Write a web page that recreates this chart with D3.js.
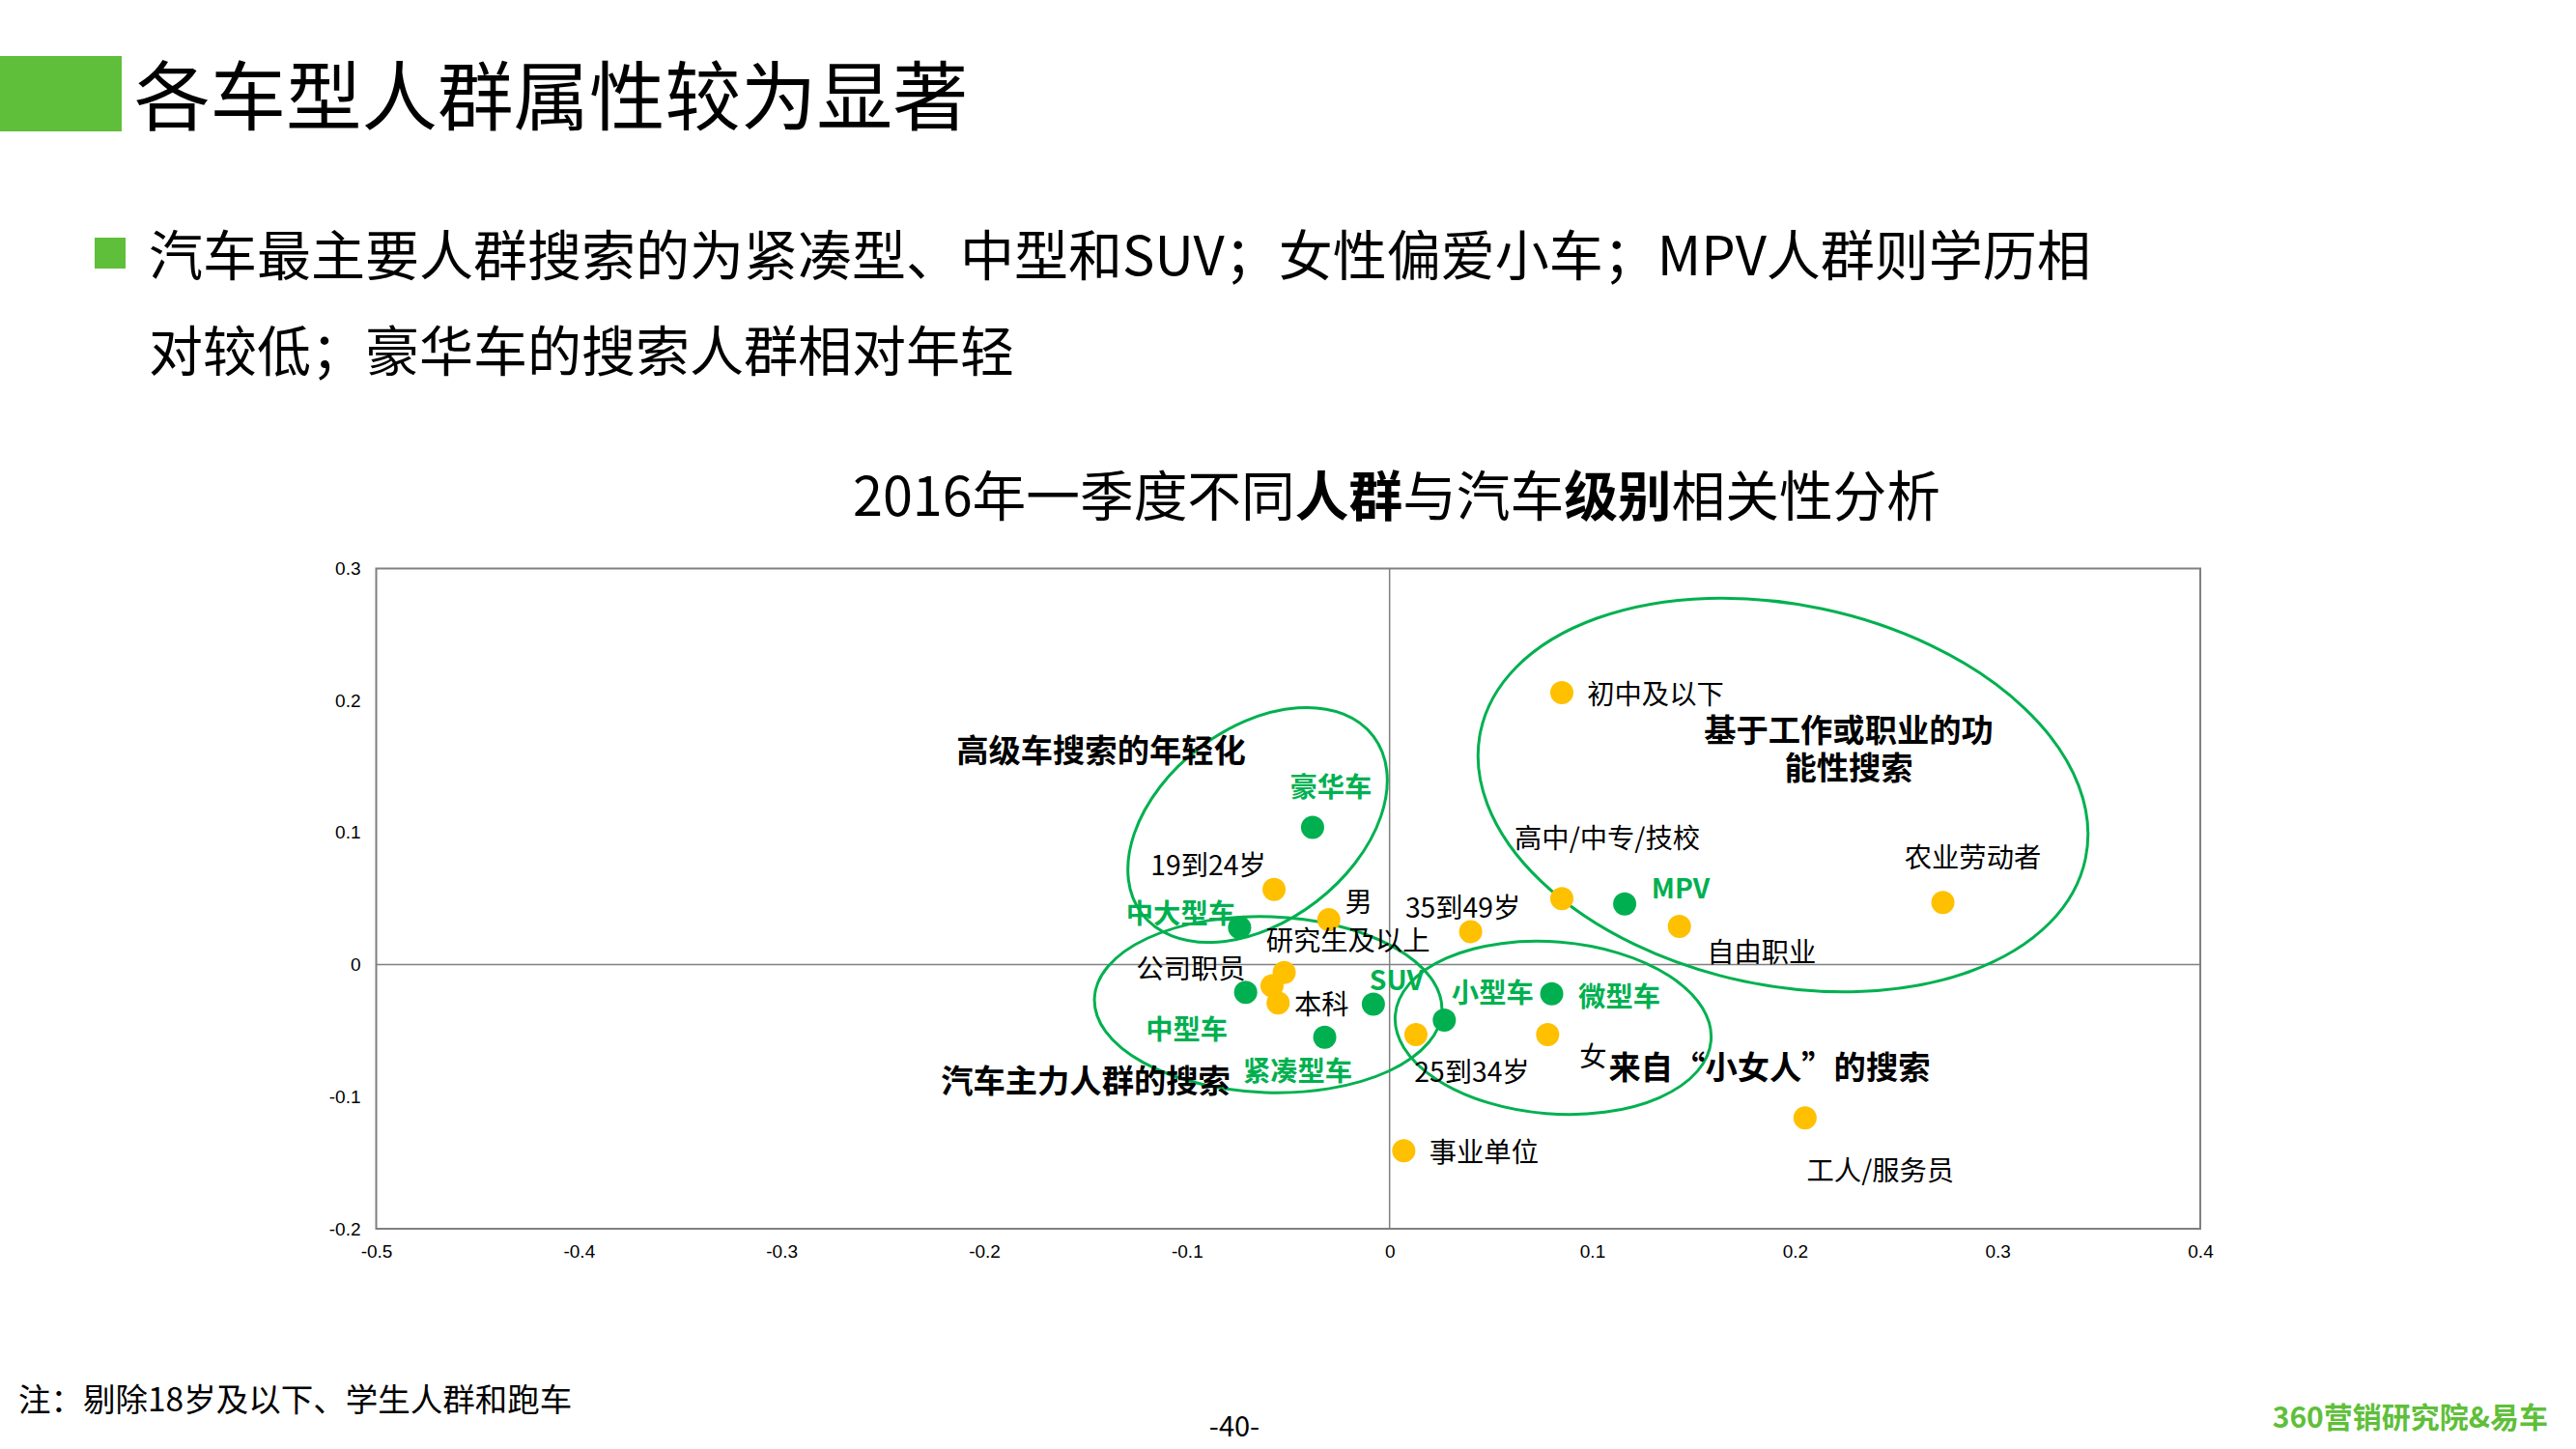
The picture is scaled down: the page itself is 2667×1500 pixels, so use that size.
<!DOCTYPE html>
<html>
<head>
<meta charset="utf-8">
<style>
    body { margin: 0; background: #fff; }
    svg { display: block; }
    text { font-family: "Noto Sans CJK SC", sans-serif; }
</style>
<script src="https://cdn.jsdelivr.net/npm/d3@7"></script>
</head>
<body>
<div id="chart"></div>
<script>
"use strict";

// Car classes (green points)
const carNames = ["豪华车", "中大型车", "中型车", "紧凑型车", "SUV", "小型车", "微型车", "MPV"];
const carX = [-0.038, -0.074, -0.071, -0.032, -0.008, 0.027, 0.080, 0.116];
const carY = [0.104, 0.028, -0.021, -0.055, -0.030, -0.042, -0.022, 0.046];

// Audience groups (yellow points)
const groupNames = ["初中及以下", "高中/中专/技校", "35到49岁", "男", "19到24岁", "研究生及以上", "公司职员",
    "本科", "25到34岁", "女", "事业单位", "工人/服务员", "自由职业", "农业劳动者"];
const groupX = [0.085, 0.085, 0.040, -0.030, -0.057, -0.052, -0.058, -0.055, 0.013, 0.078, 0.007, 0.205, 0.143, 0.273];
const groupY = [0.206, 0.050, 0.025, 0.034, 0.057, -0.006, -0.016, -0.029, -0.053, -0.053, -0.141, -0.116, 0.029, 0.047];

const xTicks = [-0.5, -0.4, -0.3, -0.2, -0.1, 0, 0.1, 0.2, 0.3, 0.4];
const yTicks = [-0.2, -0.1, 0, 0.1, 0.2, 0.3];

const width = 2667, height = 1500;
const green = "#00B050", yellow = "#FFC000", brand = "#5FBF3A", frame = "#808080";

// Where each label sits relative to its point, in pixels
const carLabelOffset = [[19, -43], [-61, -15], [-61, 38], [-28, 34], [24, -26], [50, -29], [70, 2], [58, -17]];
const groupLabelOffset = [[97, 1], [47, -63], [-8, -26], [31, -19], [-68, -26], [66, -34], [-84, -19],
    [45, 1], [58, 38], [47, 22], [83, 1], [78, 54], [85, 26], [31, -47]];

const svg = d3.select("#chart").append("svg")
    .attr("width", width)
    .attr("height", height)
    .attr("viewBox", [0, 0, width, height]);

const xScale = d3.scaleLinear().domain([-0.5, 0.4]).range([389.5, 2278]);
const yScale = d3.scaleLinear().domain([-0.2, 0.3]).range([1272, 588.5]);

DrawHeader();
DrawAxes();
DrawEllipses();
DrawPoints(groupX, groupY, yellow);
DrawPoints(carX, carY, green);
DrawPointLabels(groupNames, groupX, groupY, groupLabelOffset, "#000", 400);
DrawPointLabels(carNames, carX, carY, carLabelOffset, green, 700);
DrawAnnotations();
DrawFooter();

function AddText(x, y, str, size, opts) {
    opts = opts || {};
    return svg.append("text")
        .attr("x", x)
        .attr("y", y)
        .attr("dy", "-0.05em")
        .attr("dominant-baseline", "central")
        .attr("text-anchor", opts.anchor || "start")
        .attr("font-size", size)
        .attr("font-weight", opts.weight || 400)
        .attr("fill", opts.fill || "#000")
        .text(str);
}

function DrawHeader() {
    svg.append("rect").attr("x", 0).attr("y", 58).attr("width", 126).attr("height", 78).attr("fill", brand);
    AddText(139, 99, "各车型人群属性较为显著", 78.5);

    svg.append("rect").attr("x", 98).attr("y", 246).attr("width", 32).attr("height", 32).attr("fill", brand);
    AddText(154, 263, "汽车最主要人群搜索的为紧凑型、中型和SUV；女性偏爱小车；MPV人群则学历相", 56);
    AddText(154, 362, "对较低；豪华车的搜索人群相对年轻", 56);

    // Chart title, the two key words are bold
    const title = AddText(1446, 512, null, 55.7, { anchor: "middle" });
    title.append("tspan").text("2016年一季度不同");
    title.append("tspan").attr("font-weight", 700).text("人群");
    title.append("tspan").text("与汽车");
    title.append("tspan").attr("font-weight", 700).text("级别");
    title.append("tspan").text("相关性分析");
}

function DrawAxes() {
    // The source uses a plain hyphen for negatives
    const tickFormat = d => d === 0 ? "0" : d3.format(".1f")(d).replace("\u2212", "-");

    svg.append("rect")
        .attr("x", xScale.range()[0])
        .attr("y", yScale.range()[1])
        .attr("width", xScale.range()[1] - xScale.range()[0])
        .attr("height", yScale.range()[0] - yScale.range()[1])
        .attr("fill", "none")
        .attr("stroke", frame)
        .attr("stroke-width", 2);

    // Zero lines
    svg.append("line")
        .attr("x1", xScale(0)).attr("x2", xScale(0))
        .attr("y1", yScale.range()[0]).attr("y2", yScale.range()[1])
        .attr("stroke", frame).attr("stroke-width", 1.5);
    svg.append("line")
        .attr("x1", xScale.range()[0]).attr("x2", xScale.range()[1])
        .attr("y1", yScale(0)).attr("y2", yScale(0))
        .attr("stroke", frame).attr("stroke-width", 1.5);

    const xAxis = svg.append("g")
        .attr("transform", `translate(0,${yScale.range()[0]})`)
        .call(d3.axisBottom(xScale).tickValues(xTicks).tickFormat(tickFormat).tickSize(0).tickPadding(17));
    const yAxis = svg.append("g")
        .attr("transform", `translate(${xScale.range()[0]},0)`)
        .call(d3.axisLeft(yScale).tickValues(yTicks).tickFormat(tickFormat).tickSize(0).tickPadding(16));

    [xAxis, yAxis].forEach(g => {
        g.select(".domain").remove();
        g.selectAll("text")
            .style("font-family", '"Liberation Sans", Arial, sans-serif')
            .attr("font-size", 19)
            .attr("fill", "#000");
    });
}

function DrawEllipses() {
    // cx, cy, rx, ry and tilt of the four hand drawn rings
    const rings = [
        [1302, 854, 151, 100, -37.6],
        [1313, 1040, 180, 91, 2],
        [1608, 1064, 164, 89, 4.6],
        [1846, 823, 320, 197, 11.9]
    ];
    svg.append("g")
        .selectAll("ellipse")
        .data(rings)
        .join("ellipse")
        .attr("cx", d => d[0])
        .attr("cy", d => d[1])
        .attr("rx", d => d[2])
        .attr("ry", d => d[3])
        .attr("transform", d => `rotate(${d[4]},${d[0]},${d[1]})`)
        .attr("fill", "none")
        .attr("stroke", green)
        .attr("stroke-width", 3);
}

function DrawPoints(xs, ys, color) {
    svg.append("g")
        .attr("fill", color)
        .selectAll("circle")
        .data(d3.range(xs.length))
        .join("circle")
        .attr("cx", i => xScale(xs[i]))
        .attr("cy", i => yScale(ys[i]))
        .attr("r", 12);
}

function DrawPointLabels(names, xs, ys, offsets, color, weight) {
    names.forEach((name, i) => {
        AddText(xScale(xs[i]) + offsets[i][0], yScale(ys[i]) + offsets[i][1], name, 28.3,
            { anchor: "middle", fill: color, weight: weight });
    });
}

function DrawAnnotations() {
    const opts = { anchor: "middle", weight: 700 };
    AddText(1140, 776, "高级车搜索的年轻化", 33.3, opts);
    AddText(1124, 1118, "汽车主力人群的搜索", 33.3, opts);
    AddText(1914, 755, "基于工作或职业的功", 33.3, opts);
    AddText(1914, 794, "能性搜索", 33.3, opts);
    AddText(1832, 1104, "来自“小女人”的搜索", 33.3, opts);
}

function DrawFooter() {
    AddText(19, 1448, "注：剔除18岁及以下、学生人群和跑车", 33.5);
    AddText(1278, 1475, "-40-", 29, { anchor: "middle" });
    AddText(2638, 1466, "360营销研究院&易车", 30, { anchor: "end", fill: brand, weight: 700 });
}
</script>
</body>
</html>
